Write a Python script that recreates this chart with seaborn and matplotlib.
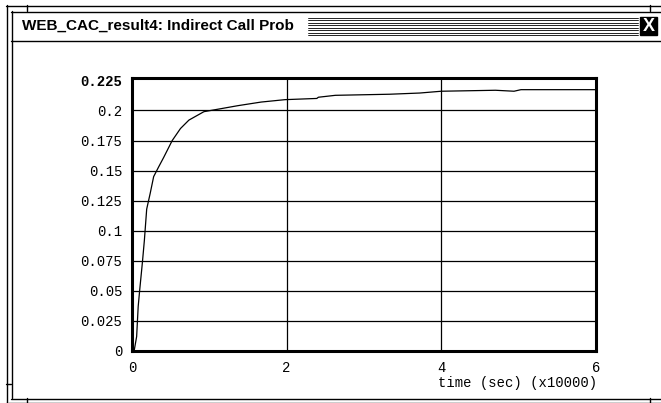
import matplotlib
matplotlib.use("Agg")
import matplotlib.pyplot as plt
import seaborn as sns
import pandas as pd
from matplotlib.patches import Rectangle
from matplotlib.lines import Line2D

# ---- data (time in units of 10000 sec) ----
time = [0.0, 0.03, 0.06, 0.08, 0.10, 0.135, 0.16, 0.19, 0.235, 0.28, 0.344, 0.41,
        0.52, 0.627, 0.736, 0.93, 1.107, 1.37, 1.67, 1.98, 2.39, 2.41, 2.63,
        3.33, 3.72, 4.0, 4.70, 4.94, 5.03, 5.99]
prob = [0.0, 0.001, 0.012, 0.037, 0.051, 0.074, 0.092, 0.118, 0.131, 0.145, 0.153, 0.161,
        0.175, 0.185, 0.192, 0.199, 0.201, 0.204, 0.207, 0.209, 0.210, 0.211, 0.2126,
        0.2135, 0.2145, 0.216, 0.2168, 0.216, 0.2173, 0.2173]
yticks = [0, 0.025, 0.05, 0.075, 0.1, 0.125, 0.15, 0.175, 0.2, 0.225]
ytick_labels = ["0", "0.025", "0.05", "0.075", "0.1", "0.125", "0.15", "0.175", "0.2", "0.225"]
xticks = [0, 2, 4, 6]
xtick_labels = ["0", "2", "4", "6"]
title = "WEB_CAC_result4: Indirect Call Prob"
xlabel = "time (sec) (x10000)"

df = pd.DataFrame({"time": time, "prob": prob})

sns.set_theme(style="white")
plt.rcParams["font.family"] = ["DejaVu Sans"]

W, H = 661, 403
fig = plt.figure(figsize=(W / 100, H / 100), dpi=100)
fig.patch.set_facecolor("white")

def px(x0, y0, x1, y1):
    return [x0 / W, 1 - y1 / H, (x1 - x0) / W, (y1 - y0) / H]

ax = fig.add_axes(px(132, 78, 596, 351))
sns.lineplot(data=df, x="time", y="prob", ax=ax, color="black", linewidth=0.9)
ax.set_xlim(0, 6)
ax.set_ylim(0, 0.227)
ax.set_yticks(yticks)
ax.set_xticks(xticks)
mono = "Liberation Mono"
fs = 10
ax.set_yticklabels(ytick_labels, family=mono, fontsize=fs, color="black")
ax.set_xticklabels(xtick_labels, family=mono, fontsize=fs, color="black")
ax.get_yticklabels()[-1].set_fontweight("bold")
ax.tick_params(axis="both", length=0, pad=7)
ax.set_xlabel("")
ax.set_ylabel("")
for ytk in yticks[1:-1]:
    ax.axhline(ytk, color="black", linewidth=0.9, zorder=1)
for xtk in xticks[1:-1]:
    ax.axvline(xtk, color="black", linewidth=0.9, zorder=1)
for s in ax.spines.values():
    s.set_visible(True)
    s.set_color("black")
    s.set_linewidth(2.2)
ax.grid(False)

fig.text(597 / W, 1 - 383 / H, xlabel, family=mono, fontsize=fs,
         ha="right", va="center", color="black")

# ---- window decoration ----
def hline(x0, x1, y, lw=1.0):
    fig.add_artist(Line2D([x0 / W, x1 / W], [1 - y / H, 1 - y / H],
                          color="black", linewidth=lw, transform=fig.transFigure))

def vline(x, y0, y1, lw=1.0):
    fig.add_artist(Line2D([x / W, x / W], [1 - y0 / H, 1 - y1 / H],
                          color="black", linewidth=lw, transform=fig.transFigure))

hline(6, W, 5.5)
vline(6.5, 5, 402)
hline(11, W, 11.5)
vline(11.5, 11, 398)
hline(11, W, 40.5)
hline(11, W, 398.5)
hline(6, W, 402.5)
vline(27, 5, 11)
vline(27, 398, 403)
hline(6, 11, 384)
vline(650, 5, 11)
vline(650, 398, 403)

fig.text(22 / W, 1 - 26 / H, title, fontsize=11, fontweight="bold",
         family="Liberation Sans", ha="left", va="center", color="black")

# stripes
for i in range(8):
    y = 17.5 + i * 2.5
    hline(308, 638, y, lw=0.6)
fig.add_artist(Rectangle((640 / W, 1 - 35 / H), 17 / W, 18 / H,
                         facecolor="black", edgecolor="black",
                         transform=fig.transFigure))
fig.text(648.5 / W, 1 - 26.5 / H, "X", fontsize=13, fontweight="bold",
         color="white", ha="center", va="center", family="Liberation Sans")

fig.savefig("out.png", dpi=100)
